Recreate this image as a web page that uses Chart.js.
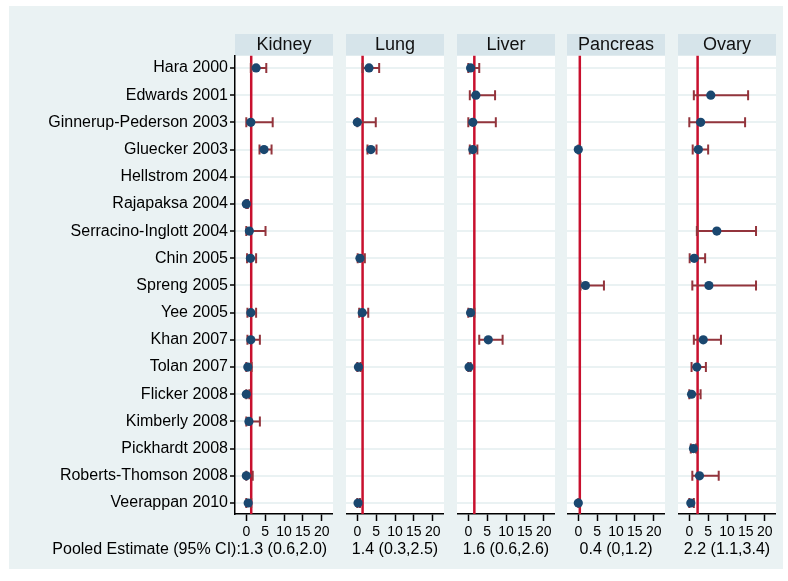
<!DOCTYPE html>
<html>
<head>
<meta charset="utf-8">
<script src="https://cdn.jsdelivr.net/npm/chart.js@4.4.1/dist/chart.umd.min.js"></script>
<style>
  html, body { margin: 0; padding: 0; background: #ffffff; width: 788px; height: 581px; overflow: hidden; }
  #bg { position: absolute; left: 9px; top: 6px; width: 774px; height: 563px; background: #eaf2f3; }
  canvas { position: absolute; top: 0; }
</style>
</head>
<body>
<div id="bg"></div>
<script>
// ---------- data ----------
const studies = [
  'Hara 2000', 'Edwards 2001', 'Ginnerup-Pederson 2003', 'Gluecker 2003',
  'Hellstrom 2004', 'Rajapaksa 2004', 'Serracino-Inglott 2004', 'Chin 2005',
  'Spreng 2005', 'Yee 2005', 'Khan 2007', 'Tolan 2007', 'Flicker 2008',
  'Kimberly 2008', 'Pickhardt 2008', 'Roberts-Thomson 2008', 'Veerappan 2010'
];
const organs = ['Kidney', 'Lung', 'Liver', 'Pancreas', 'Ovary'];

const kidneyEst = [2.6, null, 1.2, 4.7, null, 0,   0.8, 1.1, null, 1.2, 1.2, 0.4, 0,   0.7, null, 0,   0.5];
const kidneyLo  = [1.2, null, 0,   3.5, null, 0,   0,   0.2, null, 0.3, 0.3, 0,   0,   0,   null, 0,   0];
const kidneyHi  = [5.3, null, 7.0, 6.7, null, 0.4, 5.1, 2.6, null, 2.6, 3.6, 1.4, 0.8, 3.6, null, 1.7, 1.3];

const lungEst = [3.1, null, 0,   3.6, null, null, null, 0.7, null, 1.3, null, 0.3, null, null, null, null, 0.2];
const lungLo  = [1.4, null, 0,   2.7, null, null, null, 0.1, null, 0.5, null, 0,   null, null, null, null, 0];
const lungHi  = [5.8, null, 4.9, 5.1, null, null, null, 2.0, null, 2.9, null, 0.9, null, null, null, null, 0.7];

const liverEst = [0.6, 2.0, 1.2, 1.2, null, null, null, null, null, 0.6, 5.3, 0.2, null, null, null, null, null];
const liverLo  = [0,   0.4, 0,   0.4, null, null, null, null, null, 0,   2.9, 0,   null, null, null, null, null];
const liverHi  = [2.9, 7.1, 7.3, 2.4, null, null, null, null, null, 1.6, 9.1, 0.6, null, null, null, null, null];

const pancreasEst = [null, null, null, 0,   null, null, null, null, 1.9, null, null, null, null, null, null, null, 0];
const pancreasLo  = [null, null, null, 0,   null, null, null, null, 0.6, null, null, null, null, null, null, null, 0];
const pancreasHi  = [null, null, null, 0.4, null, null, null, null, 6.8, null, null, null, null, null, null, null, 0.3];

const ovaryEst = [null, 5.7,  3.0,  2.4, null, null, 7.3,  1.3, 5.2,  null, 3.7, 2.0, 0.6, null, 1.1, 2.7, 0.4];
const ovaryLo  = [null, 1.2,  0,    0.9, null, null, 2.0,  0.1, 0.8,  null, 1.2, 0.6, 0,   null, 0.4, 0.8, 0];
const ovaryHi  = [null, 15.6, 14.8, 5.0, null, null, 17.7, 4.2, 17.7, null, 8.4, 4.4, 3.0, null, 1.8, 7.8, 1.2];

const pooledEst = [1.3, 1.4, 1.6, 0.4, 2.2];
const pooledLo  = [0.6, 0.3, 0.6, 0,   1.1];
const pooledHi  = [2.0, 2.5, 2.6, 1.2, 3.4];

const xTicks = [0, 5, 10, 15, 20];
const pooledLabel = 'Pooled Estimate (95% CI):';

// ---------- layout / style ----------
const estArr = [kidneyEst, lungEst, liverEst, pancreasEst, ovaryEst];
const loArr  = [kidneyLo, lungLo, liverLo, pancreasLo, ovaryLo];
const hiArr  = [kidneyHi, lungHi, liverHi, pancreasHi, ovaryHi];

const FONT = '"Liberation Sans", Arial, Helvetica, sans-serif';
const panelLeft = [235, 346, 457, 567, 678];
const panelW = 98;
const X_MIN = -3, X_MAX = 23;
const Y_MIN = 0.545, Y_MAX = 17.405;
const NAVY = '#1a476f', MAROON = '#93343c', RED = '#c8102e';

const fmt = v => (v === 0 ? '0' : v.toFixed(1));
const pooledText = pooledEst.map((v, i) => fmt(v) + ' (' + fmt(pooledLo[i]) + ',' + fmt(pooledHi[i]) + ')');

const bgPlugin = {
  id: 'panelBg',
  beforeDraw(chart) {
    const { ctx, chartArea: a } = chart;
    const t = chart.titleBlock;
    ctx.save();
    ctx.fillStyle = '#ffffff';
    ctx.fillRect(a.left, a.top, a.right - a.left, a.bottom - a.top);
    ctx.fillStyle = '#d6e4ea';
    ctx.fillRect(a.left, t.top, a.right - a.left, t.bottom - t.top);
    ctx.restore();
  }
};

const pooledLabelPlugin = {
  id: 'pooledLabel',
  afterDraw(chart) {
    const { ctx } = chart;
    const xs = chart.scales.x;
    ctx.save();
    ctx.font = '16px ' + FONT;
    const w = ctx.measureText(pooledText[0]).width;
    const center = (xs.left + xs.right) / 2;
    ctx.fillStyle = '#000';
    ctx.textAlign = 'right';
    ctx.textBaseline = 'middle';
    ctx.fillText(pooledLabel, center - w / 2, xs.bottom - 21.4 - 9.6);
    ctx.restore();
  }
};

function makePanel(k) {
  const first = k === 0;
  const canvas = document.createElement('canvas');
  const left = first ? 0 : panelLeft[k];
  const width = first ? panelLeft[0] + panelW : panelW;
  canvas.width = width;
  canvas.height = 581;
  canvas.style.left = left + 'px';
  canvas.style.width = width + 'px';
  canvas.style.height = '581px';
  document.body.appendChild(canvas);

  const est = estArr[k], lo = loArr[k], hi = hiArr[k];
  const points = [];
  const ci = [];
  est.forEach((v, i) => {
    if (v === null) return;
    points.push({ x: v, y: i + 1 });
    ci.push({ x: lo[i], y: i + 1 }, { x: hi[i], y: i + 1 }, { x: null, y: null });
  });

  new Chart(canvas.getContext('2d'), {
    type: 'scatter',
    data: {
      datasets: [
        {
          label: 'Estimate', data: points, showLine: false,
          pointRadius: 4.6, pointBackgroundColor: NAVY, pointBorderColor: NAVY, pointBorderWidth: 0
        },
        {
          label: '95% CI', data: ci, showLine: true, spanGaps: false,
          borderColor: MAROON, borderWidth: 2,
          pointStyle: 'line', pointRotation: 90, pointRadius: 5,
          pointBorderColor: MAROON, pointBackgroundColor: MAROON, pointBorderWidth: 2
        },
        {
          label: 'Pooled', data: [{ x: pooledEst[k], y: Y_MIN }, { x: pooledEst[k], y: Y_MAX }],
          showLine: true, borderColor: RED, borderWidth: 2.5, pointRadius: 0
        }
      ]
    },
    options: {
      responsive: false,
      animation: false,
      events: [],
      layout: { autoPadding: false, padding: { top: 34, left: 0, right: 0, bottom: 0 } },
      plugins: {
        legend: { display: false },
        tooltip: { enabled: false },
        title: {
          display: true, text: organs[k], fullSize: false,
          font: { family: FONT, size: 18, weight: 'normal' }, color: '#111',
          padding: { top: 0, bottom: 0 }
        }
      },
      scales: {
        x: {
          type: 'linear', min: X_MIN, max: X_MAX,
          afterBuildTicks: s => { s.ticks = xTicks.map(v => ({ value: v })); },
          afterFit: s => { s.height = 67; s.paddingLeft = 0; s.paddingRight = 0; },
          grid: { display: true, drawOnChartArea: false, drawTicks: true, tickLength: 7, tickColor: '#000', tickWidth: 1.5 },
          border: { display: true, color: '#000', width: 1.5 },
          ticks: { font: { family: FONT, size: 14 }, color: '#000', padding: 3, maxRotation: 0, autoSkip: false },
          title: {
            display: true, text: pooledText[k], color: '#000',
            font: { family: FONT, size: 16 }, padding: { top: 0, bottom: 21.4 }
          }
        },
        y: {
          type: 'linear', reverse: true, min: Y_MIN, max: Y_MAX,
          afterBuildTicks: s => { s.ticks = studies.map((_, i) => ({ value: i + 1 })); },
          afterFit: s => { s.width = first ? panelLeft[0] : 0; s.paddingTop = 0; s.paddingBottom = 0; },
          grid: { color: '#eaf2f3', lineWidth: 2, drawTicks: first, tickLength: 5, tickColor: '#000', tickWidth: 1.5 },
          border: { display: first, color: '#000', width: 1.5 },
          ticks: {
            display: first, font: { family: FONT, size: 16 }, color: '#000', padding: 2, autoSkip: false,
            callback: v => studies[Math.round(v) - 1]
          }
        }
      }
    },
    plugins: first ? [bgPlugin, pooledLabelPlugin] : [bgPlugin]
  });
}

organs.forEach((_, k) => makePanel(k));
</script>
</body>
</html>
